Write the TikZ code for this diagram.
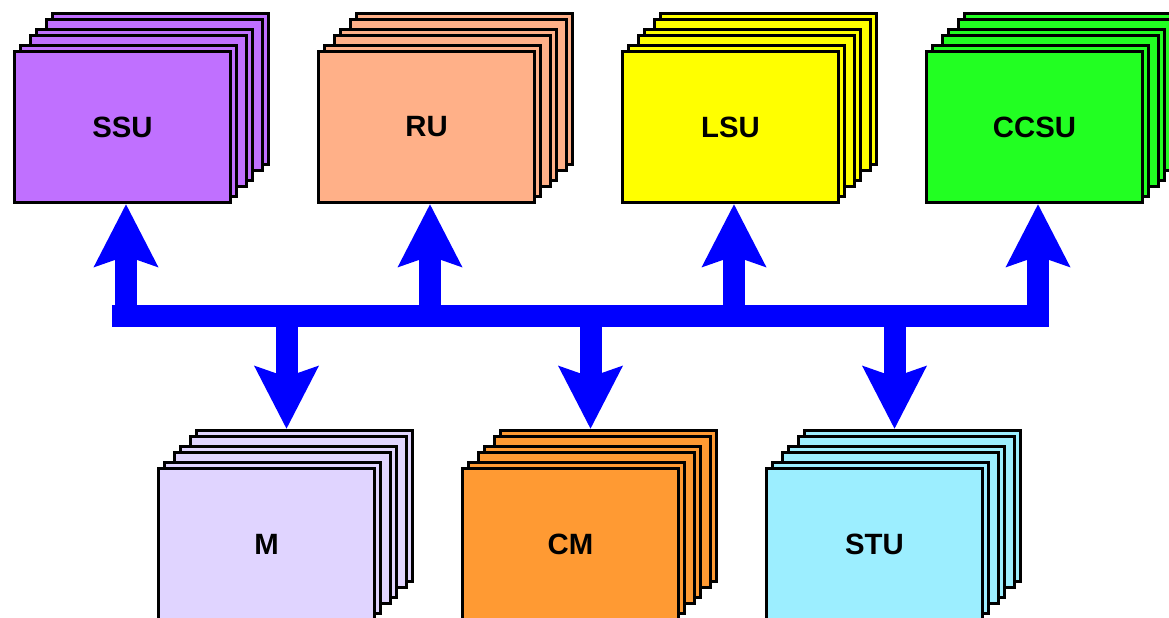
\documentclass[tikz,border=0pt]{standalone}
\usepackage{fontspec}
\setmainfont{Liberation Sans}
\usepackage{tikz}
\usetikzlibrary{arrows.meta,calc}
\definecolor{ssucol}{RGB}{192,112,255}
\definecolor{rucol}{RGB}{255,176,136}
\definecolor{lsucol}{RGB}{255,255,0}
\definecolor{ccsucol}{RGB}{34,255,34}
\definecolor{mcol}{RGB}{224,212,255}
\definecolor{cmcol}{RGB}{255,154,51}
\definecolor{stucol}{RGB}{156,238,255}
\tikzset{card/.style={draw=black,line width=2.25pt},
  unit/.style={card,minimum width=162pt,minimum height=113.25pt,inner sep=0pt,
    text=black,font=\fontsize{22}{26}\selectfont\bfseries},
  bus/.style={draw={rgb,255:red,0;green,0;blue,255},line width=16.5pt},
  busarrow/.style={bus,-{Stealth[length=46.5pt,width=46.5pt,inset=7.5pt]}}}
% stack of cards: name, left, top, colour, label
\newcommand{\unitstack}[5]{%
  \foreach \d in {38,32,22,16,6}
    \draw[card,fill=#4] (#2+\d+1.5,#3-\d+1.5) rectangle ++(216,151);
  \node[unit,fill=#4] (#1) at (#2+109.5,#3+77) {#5};
}

\begin{document}
\begin{tikzpicture}[x=0.75pt,y=-0.75pt]
\clip (0,0) rectangle (1169,617);
\unitstack{ssu}{13}{50}{ssucol}{SSU}
\unitstack{ru}{317}{50}{rucol}{RU}
\unitstack{lsu}{621}{50}{lsucol}{LSU}
\unitstack{ccsu}{925}{50}{ccsucol}{CCSU}
\unitstack{m}{157}{467}{mcol}{M}
\unitstack{cm}{461}{467}{cmcol}{CM}
\unitstack{stu}{765}{467}{stucol}{STU}
% bus
\coordinate (busL) at (112,316);
\coordinate (busR) at (1049,316);
\draw[bus] (busL) -- (busR);
\foreach \n in {ssu,ru,lsu,ccsu}
  \draw[busarrow] ($(\n.south |- busL)+(3.5,0)$) -- ($(\n.south)+(3.5,0)$);
\foreach \n in {m,cm,stu}
  \draw[busarrow] ($(\n.north |- busL)+(20,0)$) -- ($(\n.north)+(20,-38)$);
\end{tikzpicture}
\end{document}
